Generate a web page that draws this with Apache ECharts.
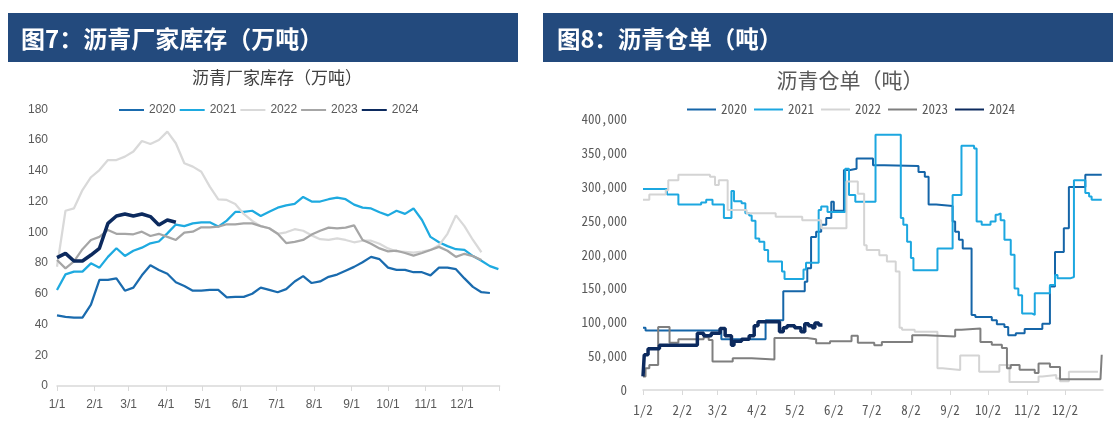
<!DOCTYPE html>
<html><head><meta charset="utf-8">
<script src="https://cdn.jsdelivr.net/npm/echarts@6/dist/echarts.min.js"></script>
<style>
html,body{margin:0;padding:0;background:#fff;width:1120px;height:425px;overflow:hidden}
#c1{position:absolute;left:0;top:0;width:530px;height:425px}
#c2{position:absolute;left:530px;top:0;width:590px;height:425px}
</style></head>
<body><div id="c1"></div><div id="c2"></div>
<script>
// ---------- shared ----------
const YEAR = 2021; // dummy non-leap year: the x axis is month/day only
const years = ['2020', '2021', '2022', '2023', '2024'];

// ---------- Fig 7: asphalt plant inventory (10k t), weekly ----------
const weekDates = ['01-01','01-08','01-15','01-22','01-29','02-05','02-12','02-19','02-26','03-05','03-12','03-19','03-26',
  '04-02','04-09','04-16','04-23','04-30','05-07','05-14','05-21','05-28','06-04','06-11','06-18','06-25',
  '07-02','07-09','07-16','07-23','07-30','08-06','08-13','08-20','08-27','09-03','09-10','09-17','09-24',
  '10-01','10-08','10-15','10-22','10-29','11-05','11-12','11-19','11-26','12-03','12-10','12-17','12-24','12-31'];
const inv2020 = [46,45,44.5,44.5,53,69,69,70,62,64,72,78.5,75.5,73,67.5,65,62,62,62.5,62.5,57.7,58,58,60,64,62.5,
  61,63,68,71.5,67,68,71,72.5,75,77.5,80.5,84,82.5,77,75.5,75.5,74,74,72,77,77,76,70,64.5,61,60.5];
const inv2021 = [62.5,72.6,74.4,74.4,79.8,77,84,89.6,84.6,88,90,92.8,94,99.3,105,104,105.8,106.5,106.5,103.7,107.6,113.2,113.2,114,110.6,113.4,
  116,117.5,118.5,123,120,120,121.5,122.5,121.5,118,116,115.5,113,111,114,112,115.5,108,97,93.5,91,89,88.5,84.5,81.5,78,76];
const inv2022 = [77.6,114,115.6,127.5,135.8,140.5,147,147,149.2,152.5,159.4,157.4,160,165.5,157.9,144.9,142.7,139.4,129.7,121.4,121,118.4,111.9,107.4,104,102.6,
  99,100,102,101,98,95.5,95,96,95,93.5,94.5,94.5,92.5,89.5,87.5,87.2,86.7,87.5,88.5,91.5,99,111,104,95,87];
const inv2023 = [82,76.5,81,89,95,97,101.5,99,99,98.7,100.4,97.6,99,97,95,99.8,100.4,103.2,103.2,103.7,105.2,105.2,105.8,105.8,104,102.6,
  99,93,93.8,95,98.5,101,103,102.5,103,104.5,95,92.5,89.5,87.6,88,86.5,84.8,86.5,88.5,90.5,88,84,86,84.5,82];
const inv2024 = [83.5,86.3,81.3,81.3,85.2,89.6,105.8,110.6,111.9,110.6,111.9,110.2,104.7,108,106.5];
const invTicks = ['01-01','02-01','03-01','04-01','05-01','06-01','07-01','08-01','09-01','10-01','11-01','12-01'];

// ---------- Fig 8: asphalt warehouse receipts (t), daily change points ----------
const wr2020 = [['01-02',92000],['01-04',88000],['03-05',75000],['04-09',103000],['04-23',146000],['05-10',160000],['05-12',180000],
  ['05-15',226000],['05-19',234000],['05-23',244000],['05-27',254000],['05-31',278000],['06-02',265000],['06-10',325000],['06-15',327000],
  ['06-20',342000],['07-03',332000],['07-12',331000],['08-08',322000],['08-13',315000],['08-16',274000],['08-22',272000],['09-04',249000],
  ['09-06',234000],['09-09',222000],['09-12',209000],['09-19',111000],['09-22',108000],['10-05',103000],['10-09',97000],['10-15',93000],
  ['10-18',81000],['10-24',84000],['10-31',90000],['11-14',98000],['11-20',153000],['11-24',204000],['12-01',239000],['12-05',300000],
  ['12-18',318000],['12-31',318000]];
const wr2021 = [['01-02',297000],['01-21',289000],['01-30',274000],['02-17',277000],['02-21',281000],['02-26',274000],['03-07',254000],
  ['03-13',294000],['03-15',279000],['03-21',276000],['03-24',261000],['03-27',258000],['03-29',250000],['04-01',224000],['04-04',219000],
  ['04-08',207000],['04-11',190000],['04-22',175000],['04-24',164000],['05-09',178000],['05-11',188000],['05-21',266000],['05-23',271000],
  ['05-28',263000],['06-11',327000],['06-14',288000],['06-19',278000],['07-05',377000],['07-25',254000],['07-27',244000],['07-30',219000],
  ['08-02',195000],['08-04',177000],['08-23',209000],['09-04',288000],['09-11',361000],['09-21',357000],['09-23',249000],['09-27',244000],
  ['10-04',249000],['10-08',259000],['10-10',261000],['10-12',251000],['10-15',222000],['10-20',200000],['10-23',150000],['10-26',140000],
  ['10-29',113000],['11-06',111000],['11-08',143000],['11-20',155000],['11-24',170000],['11-26',165000],['12-06',167000],['12-09',310000],
  ['12-18',291000],['12-21',286000],['12-23',281000],['12-31',281000]];
const wr2022 = [['01-02',281000],['01-07',289000],['01-20',295000],['01-22',310000],['01-30',318000],['02-24',315000],['02-28',303000],
  ['03-03',310000],['03-10',266000],['03-25',261000],['04-17',256000],['05-08',251000],['05-23',239000],['06-12',308000],['06-21',290000],
  ['06-26',214000],['06-28',207000],['07-08',199000],['07-14',190000],['07-21',175000],['07-24',92000],['07-26',89000],['08-05',86000],
  ['08-23',32000],['08-27',29500],['09-10',51000],['09-25',27000],['10-11',37000],['10-19',12000],['11-11',20000],['11-14',22000],
  ['11-25',17000],['11-28',13000],['12-05',27000],['12-28',27000]];
const wr2023 = [['01-02',20000],['01-04',32000],['01-07',37000],['01-14',93000],['01-23',70000],['01-30',75000],['02-19',78000],
  ['02-23',74000],['02-26',42000],['03-14',47000],['03-29',45000],['04-16',77000],['05-12',75000],['05-19',69000],['05-30',72000],
  ['06-16',80000],['06-21',70000],['07-04',66000],['07-10',71000],['08-03',81000],['08-14',79000],['09-06',89000],['09-11',91000],
  ['09-26',71000],['10-05',67000],['10-13',62000],['10-17',32000],['10-20',37000],['10-27',30000],['11-08',25000],['11-11',39000],
  ['11-20',34000],['11-28',16000],['12-30',17000],['12-31',52000]];
const wr2024 = [['01-02',20000],['01-03',52000],['01-06',61000],['01-15',66000],['02-14',84000],['02-19',80000],['02-25',84000],
  ['03-04',91000],['03-08',80000],['03-13',66000],['03-15',72000],['03-21',75000],['03-27',80000],['03-31',95000],['04-03',101000],
  ['04-20',86000],['04-23',92000],['04-26',95000],['05-02',92000],['05-07',86000],['05-10',98000],['05-13',95000],['05-16',92000],
  ['05-18',99000],['05-21',96000],['05-24',97000]];
const wrTicks = ['01-02','02-02','03-02','04-02','05-02','06-02','07-02','08-02','09-02','10-02','11-02','12-02'];

// ---------- helpers ----------
function ts(md) { const p = md.split('-').map(Number); return new Date(YEAR, p[0] - 1, p[1]).getTime(); }
function md(v) { const d = new Date(v); return (d.getMonth() + 1) + '/' + d.getDate(); }
const yearEnd = new Date(YEAR + 1, 0, 1).getTime();

const BANNER = '#234A7D';
const GRAY_TXT = '#595959';
const AXIS_C = '#D9D9D9';
const NARROW = '"Liberation Sans Narrow","Liberation Sans",Arial,sans-serif';
const MONO = '"Noto Sans Mono CJK SC","Liberation Mono",monospace';
const CJK = '"Noto Sans CJK SC","Noto Sans",sans-serif';

// ---------- Fig 7 ----------
const invColors = ['#1A6BAE', '#1EAAE0', '#D9D9D9', '#A6A6A6', '#0C2A5E'];
const invData = [inv2020, inv2021, inv2022, inv2023, inv2024];
const c1 = echarts.init(document.getElementById('c1'), null, { renderer: 'canvas' });
c1.setOption({
  animation: false,
  backgroundColor: '#fff',
  graphic: [
    { type: 'rect', shape: { x: 8, y: 13, width: 510, height: 49 }, style: { fill: BANNER } },
    { type: 'text', x: 21, y: 39, style: { text: '图7：沥青厂家库存（万吨）', fill: '#fff', font: 'bold 24px ' + CJK, verticalAlign: 'middle' } },
    { type: 'text', x: 277, y: 78, style: { text: '沥青厂家库存（万吨）', fill: '#404040', font: '17px ' + CJK, align: 'center', verticalAlign: 'middle' } }
  ],
  legend: {
    left: 118, top: 104, padding: 0, itemWidth: 25, itemHeight: 14, itemGap: 3,
    data: years,
    itemStyle: { opacity: 0 },
    textStyle: { color: GRAY_TXT, fontSize: 12, fontFamily: NARROW }
  },
  grid: { left: 57, right: 30.4, top: 109.3, bottom: 39 },
  xAxis: {
    type: 'value', min: ts('01-01'), max: yearEnd,
    axisLine: { lineStyle: { color: AXIS_C, width: 1.5 } },
    axisTick: { show: true, length: 5, lineStyle: { color: AXIS_C }, customValues: invTicks.map(ts).concat([yearEnd]) },
    axisLabel: { customValues: invTicks.map(ts), formatter: md, color: GRAY_TXT, fontSize: 12, fontFamily: NARROW, margin: 13 },
    splitLine: { show: false }
  },
  yAxis: {
    type: 'value', min: 0, max: 180, interval: 20,
    axisLine: { show: false }, axisTick: { show: false }, splitLine: { show: false },
    axisLabel: { color: GRAY_TXT, fontSize: 12, fontFamily: NARROW, margin: 9 }
  },
  series: years.map((y, k) => ({
    name: y, type: 'line', symbol: 'none', smooth: false,
    color: invColors[k],
    lineStyle: { width: k === 4 ? 3.5 : 2.25, color: invColors[k] },
    z: k === 4 ? 5 : 2,
    data: invData[k].map((v, i) => [ts(weekDates[i]), v])
  }))
});

// ---------- Fig 8 ----------
const wrColors = ['#1565A8', '#1CA7E0', '#D4D4D4', '#7F7F7F', '#0C2A5E'];
const wrData = [wr2020, wr2021, wr2022, wr2023, wr2024];
const c2 = echarts.init(document.getElementById('c2'), null, { renderer: 'canvas' });
c2.setOption({
  animation: false,
  backgroundColor: '#fff',
  graphic: [
    { type: 'rect', shape: { x: 13, y: 13, width: 570, height: 49 }, style: { fill: BANNER } },
    { type: 'text', x: 27, y: 39, style: { text: '图8：沥青仓单（吨）', fill: '#fff', font: 'bold 23.5px ' + CJK, verticalAlign: 'middle' } },
    { type: 'text', x: 320, y: 80, style: { text: '沥青仓单（吨）', fill: GRAY_TXT, font: '21px ' + CJK, align: 'center', verticalAlign: 'middle' } }
  ],
  legend: {
    left: 156, top: 103, padding: 0, itemWidth: 29, itemHeight: 14, itemGap: 6,
    data: years,
    itemStyle: { opacity: 0 },
    textStyle: { color: GRAY_TXT, fontSize: 13, fontFamily: MONO }
  },
  grid: { left: 113, right: 17, top: 119.3, bottom: 35 },
  xAxis: {
    type: 'value', min: ts('01-02'), max: yearEnd,
    axisLine: { lineStyle: { color: AXIS_C, width: 1.5 } },
    axisTick: { show: true, length: 5, lineStyle: { color: AXIS_C }, customValues: wrTicks.map(ts) },
    axisLabel: { customValues: wrTicks.map(ts), formatter: md, color: GRAY_TXT, fontSize: 13, fontFamily: MONO, margin: 14 },
    splitLine: { show: false }
  },
  yAxis: {
    type: 'value', min: 0, max: 400000, interval: 50000,
    axisLine: { show: false }, axisTick: { show: false }, splitLine: { show: false },
    axisLabel: {
      color: GRAY_TXT, fontSize: 13, fontFamily: MONO, margin: 16,
      formatter: v => v === 0 ? '0' : String(v).replace(/\B(?=(\d{3})+(?!\d))/g, ',')
    }
  },
  series: years.map((y, k) => ({
    name: y, type: 'line', symbol: 'none', step: 'end',
    color: wrColors[k],
    lineStyle: { width: k === 4 ? 3.5 : 2, color: wrColors[k] },
    z: k === 4 ? 5 : 2,
    data: wrData[k].map(p => [ts(p[0]), p[1]])
  }))
});
</script></body></html>
